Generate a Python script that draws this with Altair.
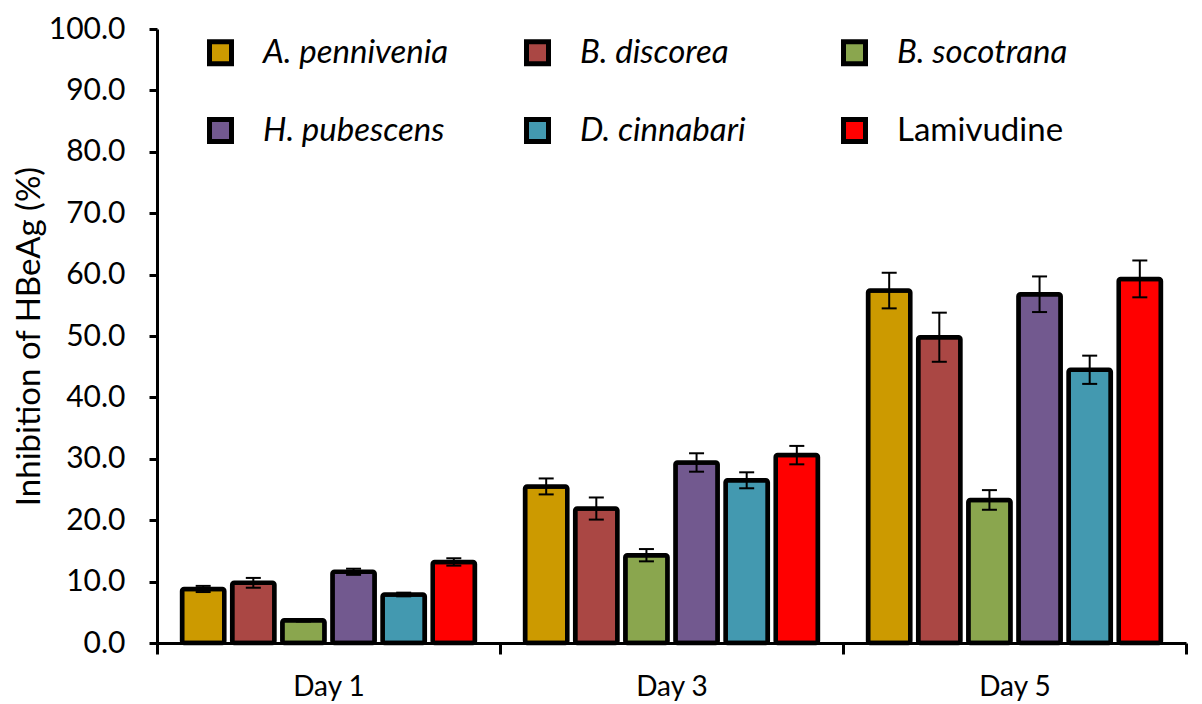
import altair as alt
import pandas as pd

days = ["Day 1", "Day 3", "Day 5"]
series = ["A. pennivenia", "B. discorea", "B. socotrana",
          "H. pubescens", "D. cinnabari", "Lamivudine"]
colors = ["#CC9A00", "#AA4744", "#8AA64E", "#72598F", "#4399B0", "#FF0000"]

day1 = [8.8, 9.8, 3.7, 11.6, 7.9, 13.2]
day3 = [25.5, 21.9, 14.3, 29.4, 26.5, 30.6]
day5 = [57.4, 49.8, 23.3, 56.8, 44.5, 59.3]
err1 = [0.5, 0.8, 0.2, 0.5, 0.3, 0.6]
err3 = [1.3, 1.8, 1.0, 1.5, 1.3, 1.5]
err5 = [2.9, 4.0, 1.6, 2.9, 2.3, 3.0]

rows = []
for d, vals, errs in zip(days, [day1, day3, day5], [err1, err3, err5]):
    for s, v, e in zip(series, vals, errs):
        rows.append({"day": d, "series": s, "value": v, "lo": v - e, "hi": v + e})
df = pd.DataFrame(rows)

FONT = "Lato"

x = alt.X("day:N", sort=days, title=None,
          scale=alt.Scale(paddingInner=0, paddingOuter=0),
          axis=alt.Axis(tickBand="extent", labelAngle=0, labelFontSize=28,
                        labelPadding=19, tickSize=11, tickWidth=3,
                        domainWidth=3, labelColor="black"))
xo = alt.XOffset("series:N", sort=series,
                 scale=alt.Scale(paddingInner=0.157, paddingOuter=0.5))
y = alt.Y("value:Q", title="Inhibition of HBeAg (%)",
          scale=alt.Scale(domain=[0, 100], nice=False),
          axis=alt.Axis(values=list(range(0, 101, 10)), format=".1f",
                        labelFontSize=30, labelPadding=24, tickSize=8,
                        tickWidth=3, domainWidth=3, grid=False,
                        titleFontSize=33, titleFontWeight="normal",
                        titlePadding=2, labelColor="black", titleColor="black"))

base = alt.Chart(df)

bars = base.mark_bar(stroke="black", strokeWidth=4.5, cornerRadius=2).encode(
    x=x, xOffset=xo, y=y,
    color=alt.Color("series:N", sort=series,
                    scale=alt.Scale(domain=series, range=colors),
                    legend=alt.Legend(
                        title=None, orient="none", legendX=47, legendY=7,
                        direction="horizontal",
                        columns=3, gridAlign="all", columnPadding=67,
                        rowPadding=35, padding=0,
                        symbolType="square", symbolSize=484,
                        symbolStrokeColor="black", symbolStrokeWidth=5,
                        symbolOpacity=1,
                        labelFontSize=33, labelOffset=26, labelLimit=400,
                        labelColor="black",
                        labelFontStyle=alt.ExprRef(
                            expr="datum.label == 'Lamivudine' ? 'normal' : 'italic'"),
                    )),
)

rules = base.mark_rule(color="black", strokeWidth=2).encode(
    x=x, xOffset=xo, y=alt.Y("lo:Q"), y2="hi:Q")
cap_lo = base.mark_tick(color="black", size=15, thickness=2, opacity=1).encode(
    x=x, xOffset=xo, y=alt.Y("lo:Q"))
cap_hi = base.mark_tick(color="black", size=15, thickness=2, opacity=1).encode(
    x=x, xOffset=xo, y=alt.Y("hi:Q"))

chart = alt.layer(bars, rules, cap_lo, cap_hi).properties(
    width=1029, height=614,
    autosize=alt.AutoSizeParams(type="none"),
    padding={"left": 149, "top": 21, "right": 8, "bottom": 62},
).configure(font=FONT).configure_view(stroke=None).configure_axis(
    domainColor="black", tickColor="black", labelFont=FONT, titleFont=FONT
).configure_legend(labelFont=FONT)

chart.save("out.html", embed_options={"renderer": "svg", "actions": False})
